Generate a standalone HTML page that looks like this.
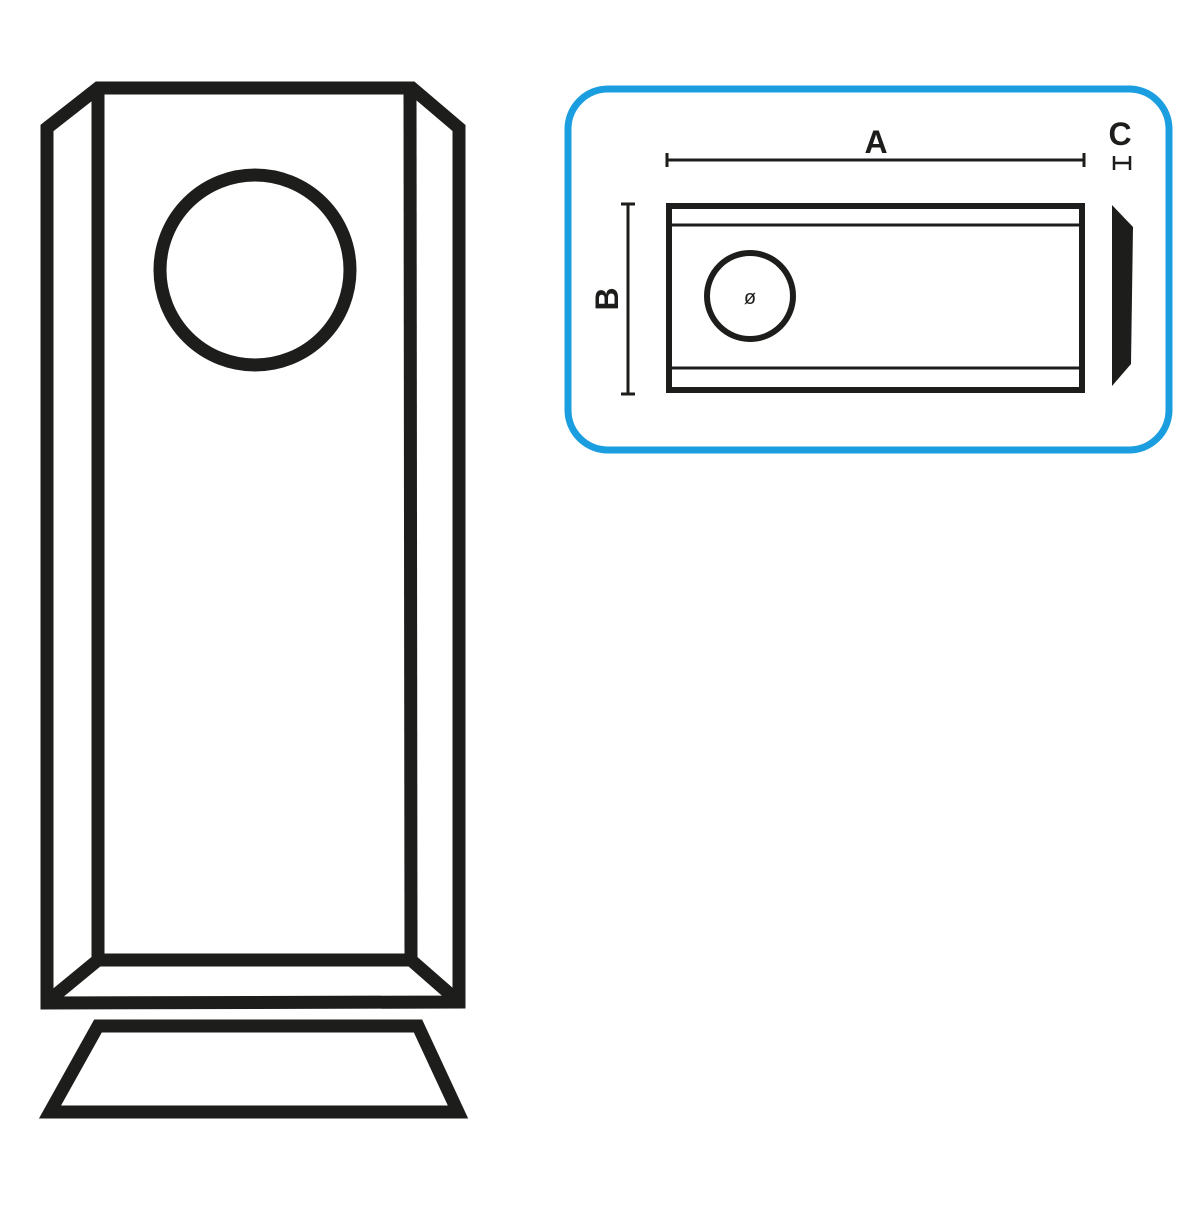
<!DOCTYPE html>
<html><head><style>html,body{margin:0;padding:0;background:#fff}</style></head>
<body>
<svg width="1200" height="1200" viewBox="0 0 1200 1200" xmlns="http://www.w3.org/2000/svg">
<g fill="none" stroke="#1d1d1b" stroke-width="13" stroke-linejoin="miter">
<polygon points="47,128 98,88 412,88 459,128 459,1002 47,1003"/>
<line x1="98" y1="88" x2="98" y2="960"/>
<line x1="410" y1="88" x2="411" y2="960"/>
<line x1="98" y1="960" x2="411" y2="960"/>
<line x1="98" y1="960" x2="47" y2="1002"/>
<line x1="411" y1="960" x2="459" y2="1002"/>
<circle cx="255" cy="270" r="95"/>
<polygon points="98,1026 418,1026 458,1112 50,1112"/>
</g>
<rect x="568" y="89" width="601" height="361" rx="40" fill="none" stroke="#1a9ee0" stroke-width="7"/>
<g stroke="#1d1d1b" fill="none">
<rect x="669" y="206" width="413" height="184" stroke-width="6"/>
<line x1="670" y1="225" x2="1081" y2="225" stroke-width="3"/>
<line x1="670" y1="368" x2="1081" y2="368" stroke-width="3"/>
<circle cx="750" cy="296" r="43" stroke-width="6"/>
<line x1="667" y1="160" x2="1084" y2="160" stroke-width="3"/>
<line x1="667" y1="153" x2="667" y2="167" stroke-width="3"/>
<line x1="1084" y1="153" x2="1084" y2="167" stroke-width="3"/>
<line x1="628" y1="204" x2="628" y2="394" stroke-width="3"/>
<line x1="621" y1="204" x2="635" y2="204" stroke-width="3"/>
<line x1="621" y1="394" x2="635" y2="394" stroke-width="3"/>
<line x1="1114" y1="163" x2="1130" y2="163" stroke-width="2.5"/>
<line x1="1114" y1="156" x2="1114" y2="170" stroke-width="2.5"/>
<line x1="1130" y1="156" x2="1130" y2="170" stroke-width="2.5"/>
</g>
<polygon points="1112,205 1133,227 1131,364 1112,386" fill="#1d1d1b"/>
<g font-family="Liberation Sans, sans-serif" font-weight="bold" fill="#1d1d1b" text-anchor="middle">
<text x="876" y="153" font-size="32">A</text>
<text x="1120" y="145" font-size="32">C</text>
<text x="750" y="304" font-size="20" font-weight="normal">ø</text>
<text x="0" y="0" font-size="32" transform="translate(618,299) rotate(-90)">B</text>
</g>
</svg>
</body></html>
